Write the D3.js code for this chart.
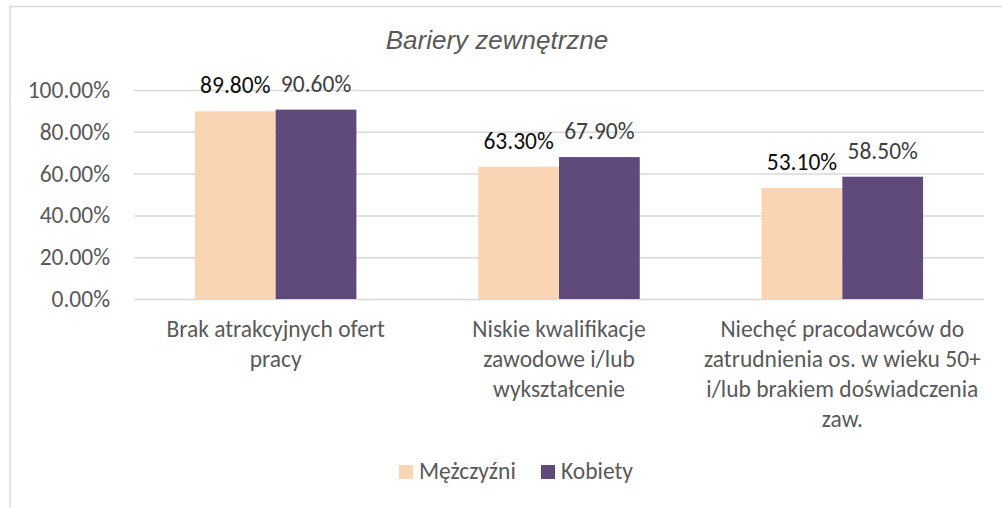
<!DOCTYPE html>
<html>
<head>
<meta charset="utf-8">
<script src="https://cdn.jsdelivr.net/npm/d3@7"></script>
<style>
  body { margin: 0; background: #fff; }
  text { font-family: Carlito, Lato, sans-serif; }
</style>
</head>
<body>
<script>
// data // ------------------------------------------------------------------
var title = "Bariery zewnętrzne";
var categories = [
  ["Brak atrakcyjnych ofert", "pracy"],
  ["Niskie kwalifikacje", "zawodowe i/lub", "wykształcenie"],
  ["Niechęć pracodawców do", "zatrudnienia os. w wieku 50+", "i/lub brakiem doświadczenia", "zaw."]
];
var seriesNames = ["Mężczyźni", "Kobiety"];
var men = [0.898, 0.633, 0.531];
var women = [0.906, 0.679, 0.585];
var yTicks = [0, 0.2, 0.4, 0.6, 0.8, 1.0];
var colors = ["#FBD4B4", "#604A7B"];
var labelColors = ["#0d0d0d", "#404040"];

// layout // ----------------------------------------------------------------
var W = 1002, H = 508;
var fs = "23.5px"; // Calibri-ish size of the reference text
var margin = {top: 90, right: 18, bottom: 209, left: 134},
    width = W - margin.left - margin.right,
    height = H - margin.top - margin.bottom;

var x0 = d3.scaleBand().domain(d3.range(categories.length))
           .range([0, width]).paddingInner(0.43).paddingOuter(0.215);
var x1 = d3.scaleBand().domain(d3.range(seriesNames.length))
           .range([0, x0.bandwidth()]);
var y = d3.scaleLinear().domain([0, 1]).range([height, 0]);

var svg = d3.select("body").append("svg")
            .attr("width", W).attr("height", H);

// chart border (only top + left visible in the crop)
svg.append("line").attr("x1", 10).attr("y1", 6.5).attr("x2", W).attr("y2", 6.5)
   .attr("stroke", "#d9d9d9").attr("stroke-width", 1.5);
svg.append("line").attr("x1", 10).attr("y1", 6).attr("x2", 10).attr("y2", H)
   .attr("stroke", "#d9d9d9").attr("stroke-width", 1.5);

svg.append("text")
   .attr("x", 497).attr("y", 49)
   .attr("text-anchor", "middle")
   .style("font-family", "'Liberation Sans', Arial, sans-serif")
   .style("font-style", "italic")
   .style("font-size", "26px")
   .attr("fill", "#595959")
   .text(title);

var g = svg.append("g")
           .attr("transform", "translate(" + margin.left + "," + margin.top + ")");

// gridlines
g.append("g")
 .call(d3.axisRight(y).tickValues(yTicks).tickSize(width).tickFormat(""))
 .call(function(s) {
   s.select(".domain").remove();
   s.selectAll("line").attr("stroke", "#d9d9d9").attr("stroke-width", 1.5);
 });

// y axis labels
g.append("g")
 .call(d3.axisLeft(y).tickValues(yTicks).tickSize(0).tickPadding(24)
         .tickFormat(function(d) { return (d * 100).toFixed(2) + "%"; }))
 .call(function(s) {
   s.select(".domain").remove();
   s.selectAll("text").attr("fill", "#595959")
    .style("font-size", fs).style("font-family", "Carlito, Lato, sans-serif");
 });

// bars
var rows = categories.map(function(c, i) { return [men[i], women[i]]; });
var groups = g.selectAll(".grp").data(rows).enter().append("g")
              .attr("transform", function(d, i) { return "translate(" + x0(i) + ",0)"; });

groups.selectAll("rect").data(function(d) { return d; }).enter().append("rect")
      .attr("x", function(d, j) { return x1(j); })
      .attr("y", function(d) { return y(d); })
      .attr("width", x1.bandwidth())
      .attr("height", function(d) { return height - y(d); })
      .attr("fill", function(d, j) { return colors[j]; });

groups.selectAll(".lbl").data(function(d) { return d; }).enter().append("text")
      .attr("x", function(d, j) { return x1(j) + x1.bandwidth() / 2; })
      .attr("y", function(d) { return y(d) - 18; })
      .attr("text-anchor", "middle")
      .style("font-size", fs)
      .attr("fill", function(d, j) { return labelColors[j]; })
      .text(function(d) { return (d * 100).toFixed(2) + "%"; });

// category labels
var xl = g.selectAll(".xl").data(categories).enter().append("text")
          .attr("text-anchor", "middle")
          .attr("fill", "#595959")
          .style("font-size", fs)
          .attr("transform", function(d, i) {
            return "translate(" + (x0(i) + x0.bandwidth() / 2) + "," + (height + 38) + ")";
          });
xl.selectAll("tspan").data(function(d) { return d; }).enter().append("tspan")
  .attr("x", 0).attr("y", function(d, k) { return k * 30; })
  .text(function(d) { return d; });

// legend
var legend = svg.append("g").attr("transform", "translate(399,465)");
var legX = [0, 142];
seriesNames.forEach(function(name, j) {
  legend.append("rect").attr("x", legX[j]).attr("y", 0)
        .attr("width", 14).attr("height", 14).attr("fill", colors[j]);
  legend.append("text").attr("x", legX[j] + 20).attr("y", 14)
        .attr("fill", "#595959").style("font-size", fs).text(name);
});
</script>
</body>
</html>
